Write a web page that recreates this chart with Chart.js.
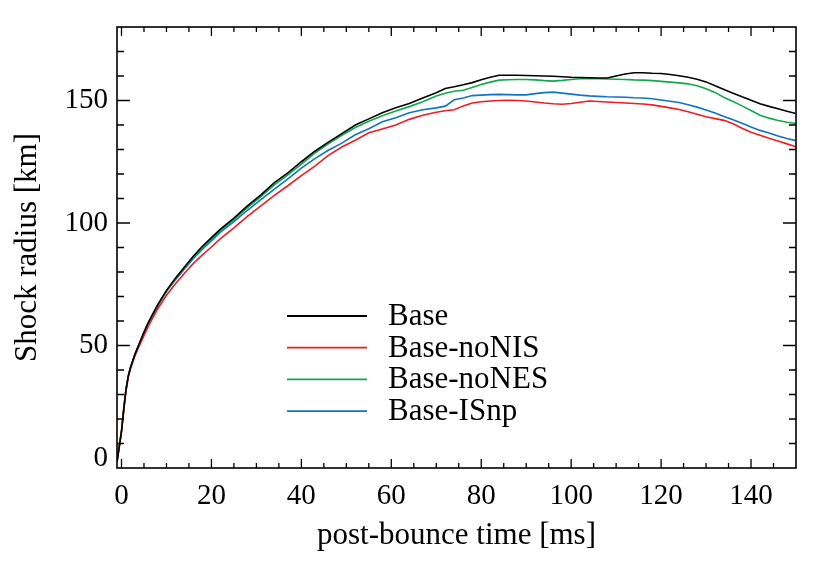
<!DOCTYPE html>
<html>
<head>
<meta charset="utf-8">
<script src="https://cdn.jsdelivr.net/npm/chart.js@4.4.0/dist/chart.umd.min.js"></script>
<style>
  html, body { margin: 0; padding: 0; background: #fff; }
  #wrap { width: 830px; height: 575px; }
</style>
</head>
<body>
<div id="wrap"><canvas id="myChart" width="830" height="575"></canvas></div>
<script>
'use strict';

// post-bounce time [ms], shared by all runs
var times = [-1, 0, 0.5, 1, 1.5, 2, 3, 4, 5, 6,
  8, 10, 12, 14, 16, 18, 20, 22,
  25, 28, 31, 34, 37, 40, 43, 46, 49, 52, 55, 58, 61, 64, 67, 70,
  72, 74, 76, 78, 80, 82, 84, 86, 88, 90, 92, 94, 96, 98, 100, 102, 104, 106, 108, 110,
  112, 114, 116, 118, 120, 122, 124, 126, 128, 130, 132, 134, 136, 138, 140, 142, 144, 146, 148, 150];

// shock radius [km] for each run
var base = [2.5, 15, 24, 32, 37.5, 41, 46.5, 51, 55.5, 59.5,
  66.5, 72.5, 77.5, 82, 86.5, 90.5, 94, 97.5,
  102, 107, 111.5, 116.5, 120.5, 125, 129.3, 133, 136.5, 140, 142.5, 145, 147, 148.8, 151, 153.2,
  154.9, 155.6, 156.4, 157.3, 158.5, 159.5, 160.3, 160.3, 160.3, 160.2, 160.1, 160, 159.9, 159.7, 159.5, 159.4, 159.3, 159.2, 159.2, 160,
  160.8, 161.3, 161.3, 161.1, 161, 160.6, 160.1, 159.5, 158.7, 157.6, 156, 154.5, 153, 151.5, 150.1, 148.7, 147.6, 146.6, 145.6, 144.7];

var noNIS = [2.5, 15, 23.5, 31.5, 37, 40.5, 45.8, 50, 54, 58,
  64.8, 70.5, 75.2, 79.5, 83.5, 87, 90.2, 93.6,
  98, 102.7, 107, 111.3, 115.2, 119.3, 123.2, 127.6, 131, 133.8, 136.8, 138.4, 140, 142.3, 144, 145.2,
  145.8, 146.2, 147.8, 149, 149.5, 149.8, 150, 150.1, 150, 149.8, 149.4, 149, 148.7, 148.5, 148.8, 149.3, 149.8, 149.6, 149.4, 149.2,
  149, 148.8, 148.6, 148.2, 147.6, 147, 146.3, 145.4, 144.4, 143.4, 142.6, 141.9, 140.5, 138.7, 137, 135.8, 134.6, 133.5, 132.3, 131.1];

var noNES = [2.5, 15, 24, 32, 37.5, 41, 46.5, 51, 55.3, 59.3,
  66.3, 72.2, 77.2, 81.6, 86, 90, 93.5, 97,
  101.4, 106.3, 110.8, 115.6, 119.6, 124, 128.5, 132.3, 135.8, 139, 141.5, 143.8, 145.7, 147.5, 149.5, 151.8,
  153, 153.8, 154.2, 155.3, 156.5, 157.5, 158.3, 158.5, 158.6, 158.6, 158.4, 158.1, 157.9, 158.2, 158.6, 158.9, 159, 158.9, 158.8, 158.7,
  158.6, 158.4, 158.3, 158.1, 157.8, 157.5, 157.2, 156.8, 156, 154.8, 153.3, 151.2, 149.6, 147.8, 145.9, 144, 142.8, 141.8, 141.1, 140.6];

var isnp = [2.5, 15, 24, 32, 37.5, 41, 46.3, 50.7, 55, 59,
  66, 72, 76.8, 81.2, 85.5, 89.3, 92.8, 96.3,
  100.6, 105.2, 109.5, 113.8, 118, 122.4, 126.3, 129.7, 132.6, 136, 138.5, 141.3, 143, 145, 146.2, 147,
  147.7, 150.3, 151, 152, 152.2, 152.4, 152.5, 152.4, 152.3, 152.3, 152.8, 153.2, 153.4, 153, 152.6, 152.2, 151.9, 151.7, 151.5, 151.4,
  151.3, 151.1, 151, 150.7, 150.2, 149.7, 149.2, 148.3, 147.3, 146.1, 144.9, 143.5, 142.1, 140.7, 139.2, 137.8, 136.7, 135.5, 134.5, 133.6];

var runNames = ['Base', 'Base-noNIS', 'Base-noNES', 'Base-ISnp'];
var runValues = [base, noNIS, noNES, isnp];
var runColors = ['#000000', '#ee1c25', '#10a84c', '#1273c2'];

var serif = "'Liberation Serif', 'DejaVu Serif', serif";

// turn times + values into {x, y} points
function toPoints(values) {
  var pts = [];
  for (var i = 0; i < times.length; i++) {
    pts.push({ x: times[i], y: values[i] });
  }
  return pts;
}

var datasets = [];
for (var i = 0; i < runNames.length; i++) {
  datasets.push({
    label: runNames[i],
    data: toPoints(runValues[i]),
    borderColor: runColors[i],
    backgroundColor: runColors[i],
    borderWidth: 1.6,
    pointRadius: 0,
    tension: 0,
    fill: false
  });
}

// frame, inward ticks on all four sides, the lifted "0" label and the legend box
var framePlugin = {
  id: 'frame',
  afterDatasetsDraw: function (chart) {
    var ctx = chart.ctx;
    var a = chart.chartArea;
    var xs = chart.scales.x;
    var ys = chart.scales.y;
    ctx.save();
    ctx.strokeStyle = '#000';
    ctx.lineWidth = 1.6;
    ctx.strokeRect(a.left, a.top, a.right - a.left, a.bottom - a.top);

    ctx.lineWidth = 1.3;
    ctx.beginPath();
    for (var t = 0; t < 150; t += 5) {
      var px = xs.getPixelForValue(t);
      var len = (t % 20 === 0) ? 9 : 5;
      ctx.moveTo(px, a.bottom); ctx.lineTo(px, a.bottom - len);
      ctx.moveTo(px, a.top); ctx.lineTo(px, a.top + len);
    }
    for (var r = 10; r < 180; r += 10) {
      var py = ys.getPixelForValue(r);
      var ylen = (r % 50 === 0) ? 13 : 7;
      ctx.moveTo(a.left, py); ctx.lineTo(a.left + ylen, py);
      ctx.moveTo(a.right, py); ctx.lineTo(a.right - ylen, py);
    }
    ctx.stroke();

    // y "0" sits a little above the corner, as in the original
    ctx.fillStyle = '#000';
    ctx.font = '29px ' + serif;
    ctx.textAlign = 'right';
    ctx.textBaseline = 'middle';
    ctx.fillText('0', a.left - 9, ys.getPixelForValue(0) - 10);

    // legend
    ctx.font = '31px ' + serif;
    ctx.textBaseline = 'alphabetic';
    ctx.textAlign = 'left';
    for (var k = 0; k < runNames.length; k++) {
      var ly = 316 + k * 31.7;
      ctx.strokeStyle = runColors[k];
      ctx.lineWidth = 1.8;
      ctx.beginPath();
      ctx.moveTo(287, ly);
      ctx.lineTo(367, ly);
      ctx.stroke();
      ctx.fillStyle = '#000';
      ctx.fillText(runNames[k], 388, ly + 9);
    }
    ctx.restore();
  }
};

var ctx = document.getElementById('myChart').getContext('2d');
var chart = new Chart(ctx, {
  type: 'line',
  data: { datasets: datasets },
  options: {
    responsive: false,
    animation: false,
    events: [],
    layout: { padding: { left: 0, right: 34, top: 27, bottom: 0 } },
    plugins: {
      legend: { display: false },
      tooltip: { enabled: false }
    },
    scales: {
      x: {
        type: 'linear',
        min: -1,
        max: 150,
        grid: { display: false, drawTicks: false },
        border: { display: false },
        ticks: {
          stepSize: 20,
          includeBounds: false,
          autoSkip: false,
          maxRotation: 0,
          padding: 11,
          color: '#000',
          font: { family: serif, size: 29 }
        },
        title: {
          display: true,
          text: 'post-bounce time [ms]',
          color: '#000',
          font: { family: serif, size: 31 },
          padding: { top: 0, bottom: 21 }
        },
        afterFit: function (scale) { scale.height = 107; }
      },
      y: {
        type: 'linear',
        min: 0,
        max: 180,
        grid: { display: false, drawTicks: false },
        border: { display: false },
        ticks: {
          stepSize: 50,
          includeBounds: false,
          padding: 9,
          color: '#000',
          font: { family: serif, size: 29 },
          callback: function (value) { return value === 0 ? '' : value; }
        },
        title: {
          display: true,
          text: 'Shock radius [km]',
          color: '#000',
          font: { family: serif, size: 31 },
          padding: { top: 9, bottom: 0 }
        },
        afterFit: function (scale) { scale.width = 117; }
      }
    }
  },
  plugins: [framePlugin]
});
</script>
</body>
</html>
